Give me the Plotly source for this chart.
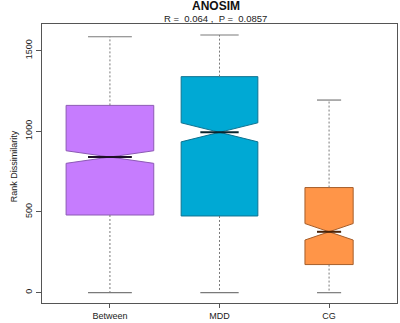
import plotly.graph_objects as go

groups = ["Between", "MDD", "CG"]
q1 = [481, 475, 174]
median = [840, 993, 377]
q3 = [1160, 1338, 651]
lower = [0, 0, 0]
upper = [1585, 1596, 1193]
notch = [39, 59, 51]
yticks = [0, 500, 1000, 1500]

# styles
positions = [1, 2, 3]
box_widths = [0.8, 0.70, 0.44]
fills = ["#C67CFE", "#00A9D4", "#FF9548"]
edges = ["#8C5AB4", "#0E7391", "#A65E2B"]
medcols = ["#1E1028", "#08252E", "#4A2206"]
grey = "#7A7A7A"

fig = go.Figure()
for i, g in enumerate(groups):
    x = positions[i]
    w = box_widths[i]
    fig.add_trace(go.Box(
        x=[x], q1=[q1[i]], median=[median[i]], q3=[q3[i]],
        lowerfence=[q1[i]], upperfence=[q3[i]],
        notched=True, notchspan=[notch[i]], notchwidth=0.5,
        width=w, whiskerwidth=0,
        fillcolor=fills[i], line=dict(color=edges[i], width=1),
        boxpoints=False, showlegend=False, name=g, hoverinfo="skip"))
    # whiskers (dashed)
    fig.add_trace(go.Scatter(
        x=[x, x, None, x, x], y=[q3[i], upper[i], None, q1[i], lower[i]],
        mode="lines", line=dict(color=grey, width=1, dash="2px,2px"),
        showlegend=False, hoverinfo="skip"))
    # caps
    fig.add_trace(go.Scatter(
        x=[x - w / 4, x + w / 4, None, x - w / 4, x + w / 4],
        y=[upper[i], upper[i], None, lower[i], lower[i]],
        mode="lines", line=dict(color=grey, width=1.2),
        showlegend=False, hoverinfo="skip"))
    # median
    fig.add_trace(go.Scatter(
        x=[x - w / 4, x + w / 4], y=[median[i], median[i]],
        mode="lines", line=dict(color=medcols[i], width=2),
        showlegend=False, hoverinfo="skip"))

font = "Liberation Sans, Arial, Helvetica, sans-serif"
fig.update_layout(
    width=400, height=323,
    margin=dict(l=42, r=3, t=24, b=20),
    paper_bgcolor="white", plot_bgcolor="white",
    font=dict(family=font, size=9, color="#222222"),
    xaxis=dict(range=[0.38, 3.62], tickvals=positions, ticktext=groups,
               showgrid=False, zeroline=False, showline=True, mirror=True,
               linecolor="#555555", linewidth=1,
               ticks="outside", ticklen=4, tickcolor="#555555",
               tickfont=dict(size=9, color="#222222")),
    yaxis=dict(range=[-64, 1664], tickvals=yticks,
               showgrid=False, zeroline=False, showline=True, mirror=True,
               linecolor="#555555", linewidth=1,
               ticks="outside", ticklen=5, tickcolor="#555555",
               tickangle=-90, tickfont=dict(size=9, color="#222222")),
    annotations=[
        dict(text="<b>ANOSIM</b>", xref="paper", yref="paper", x=0.49, y=1.066,
             xanchor="center", yanchor="middle", showarrow=False,
             font=dict(size=12, color="#111111")),
        dict(text="R =  0.064 ,  P =  0.0857", xref="paper", yref="paper",
             x=0.49, y=1.019, xanchor="center", yanchor="middle", showarrow=False,
             font=dict(size=9.5, color="#222222")),
        dict(text="Rank Dissimilarity", xref="paper", yref="paper",
             x=-0.079, y=0.49, xanchor="center", yanchor="middle",
             textangle=-90, showarrow=False, font=dict(size=9, color="#222222")),
    ],
)
fig.write_html("out.html", config={"displayModeBar": False},
               post_script="document.body.style.margin='0';document.body.style.padding='0';")
